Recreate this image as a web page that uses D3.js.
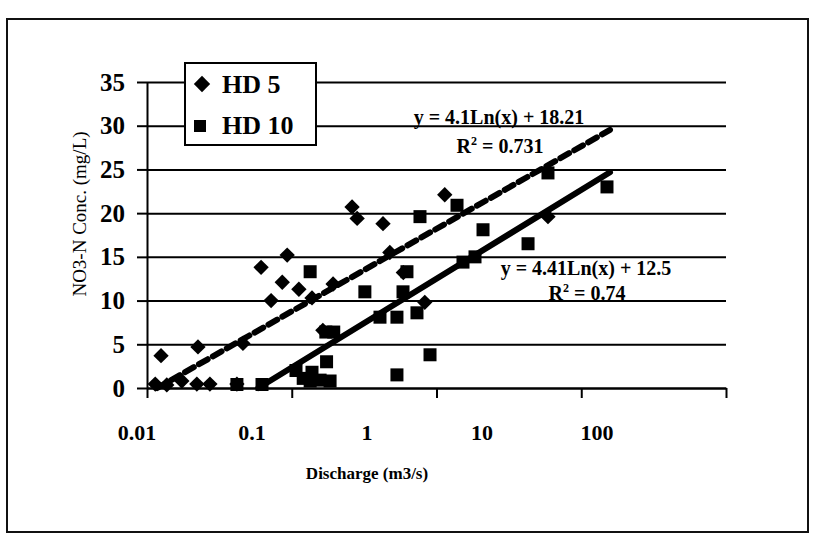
<!DOCTYPE html>
<html>
<head>
<meta charset="utf-8">
<script src="https://cdn.jsdelivr.net/npm/d3@7"></script>
<style>
  body { margin: 0; background: #fff; }
  svg { display: block; }
  text { font-family: "Liberation Serif", "Times New Roman", serif; fill: #000; }
</style>
</head>
<body>
<div id="chart"></div>
<script>
// HD 5 samples (diamonds)
var hd5X = [0.0114, 0.0137, 0.0174, 0.0221, 0.0272, 0.0418, 0.0125, 0.0225, 0.046,
  0.0614, 0.072, 0.086, 0.093, 0.112, 0.138, 0.164, 0.193, 0.261, 0.283, 0.427,
  0.476, 0.59, 0.83, 1.14, 5.89];
var hd5Y = [0.45, 0.35, 0.8, 0.45, 0.45, 0.45, 3.7, 4.7, 5.1,
  13.8, 10.0, 12.1, 15.2, 11.3, 10.3, 6.6, 11.9, 20.7, 19.4, 18.8,
  15.5, 13.2, 9.8, 22.1, 19.6];

// HD 10 samples (squares)
var hd10X = [0.0418, 0.0623, 0.107, 0.12, 0.134, 0.138, 0.157, 0.174, 0.184, 0.172,
  0.195, 0.134, 0.32, 0.407, 0.533, 0.533, 0.587, 0.625, 0.733, 0.769, 0.902,
  1.386, 1.524, 1.845, 2.096, 4.29, 5.89, 15.06];
var hd10Y = [0.4, 0.4, 2.0, 1.1, 0.8, 1.8, 0.9, 3.0, 0.8, 6.4,
  6.4, 13.3, 11.0, 8.1, 8.1, 1.5, 11.0, 13.3, 8.6, 19.6, 3.8,
  20.9, 14.4, 15.0, 18.1, 16.5, 24.6, 23.0];

// log trendlines y = a Ln(x) + b
var fitSlope = [4.1, 4.41];
var fitIntercept = [18.21, 12.5];
var fitEndX = 15.8;
var fitLabels = ["y = 4.1Ln(x) + 18.21", "y = 4.41Ln(x) + 12.5"];
var r2Labels = ["0.731", "0.74"];

var xTicks = [0.01, 0.1, 1, 10, 100];
var yTicks = [0, 5, 10, 15, 20, 25, 30, 35];
var seriesNames = ["HD 5", "HD 10"];

var width = 815, height = 538;
var margin = {top: 82, right: 89, bottom: 150, left: 147};
var w = width - margin.left - margin.right;
var h = height - margin.top - margin.bottom;

var svg = d3.select("#chart").append("svg")
    .attr("width", width)
    .attr("height", height);

// outer frame
svg.append("rect")
    .attr("x", 7).attr("y", 19)
    .attr("width", 801).attr("height", 513)
    .attr("fill", "none")
    .attr("stroke", "#111")
    .attr("stroke-width", 2);

var g = svg.append("g")
    .attr("transform", "translate(" + margin.left + "," + margin.top + ")");

var x = d3.scaleLog().domain([0.01, 100]).range([0, w]);
var y = d3.scaleLinear().domain([0, 35]).range([h, 0]);
// the printed tick labels sit off their ticks in the original
var xLabelPos = d3.scaleLog().domain([0.01, 100]).range([137 - margin.left, 597 - margin.left]);

// gridlines
g.append("g")
    .attr("class", "grid")
    .call(d3.axisLeft(y).tickValues(yTicks).tickSize(-w).tickSizeOuter(0).tickFormat(""))
    .call(function (s) {
      s.select(".domain").remove();
      s.selectAll("line").attr("stroke", "#000").attr("stroke-width", 2);
    });

// y axis
g.append("g")
    .call(d3.axisLeft(y).tickValues(yTicks).tickSize(10).tickSizeOuter(0).tickPadding(12))
    .call(function (s) {
      s.select(".domain").attr("stroke", "#000").attr("stroke-width", 2);
      s.selectAll("line").attr("stroke", "#000").attr("stroke-width", 2);
      s.selectAll("text")
          .style("font-size", "25px")
          .style("font-weight", "bold")
          .style("font-family", "'Liberation Serif', 'Times New Roman', serif");
    });

// x axis
g.append("g")
    .attr("transform", "translate(0," + h + ")")
    .call(d3.axisBottom(x).tickValues(xTicks).tickSize(10).tickSizeOuter(0).tickFormat(""))
    .call(function (s) {
      s.select(".domain").attr("stroke", "#000").attr("stroke-width", 2);
      s.selectAll("line").attr("stroke", "#000").attr("stroke-width", 2);
    });

g.append("g").selectAll("text")
    .data(xTicks)
  .enter().append("text")
    .attr("x", function (d) { return xLabelPos(d); })
    .attr("y", h + 52)
    .attr("text-anchor", "middle")
    .style("font-size", "22px")
    .style("font-weight", "bold")
    .text(function (d) { return d3.format("~g")(d); });

// axis titles
svg.append("text")
    .attr("transform", "translate(86,214) rotate(-90)")
    .attr("text-anchor", "middle")
    .style("font-size", "19px")
    .text("NO3-N Conc. (mg/L)");

svg.append("text")
    .attr("x", 367).attr("y", 479)
    .attr("text-anchor", "middle")
    .style("font-size", "17px")
    .style("font-weight", "bold")
    .text("Discharge (m3/s)");

// trendlines
var line = d3.line()
    .x(function (d) { return x(d[0]); })
    .y(function (d) { return y(d[1]); });

var seriesX = [hd5X, hd10X];
fitSlope.forEach(function (a, i) {
  var b = fitIntercept[i];
  var x0 = Math.max(d3.min(seriesX[i]), Math.exp(-b / a));
  var pts = [x0, fitEndX].map(function (v) { return [v, a * Math.log(v) + b]; });
  g.append("path")
      .datum(pts)
      .attr("d", line)
      .attr("fill", "none")
      .attr("stroke", "#000")
      .attr("stroke-width", 6)
      .attr("stroke-linecap", "round")
      .attr("stroke-dasharray", i === 0 ? "10,6" : null);
});

// points
var hd5 = hd5X.map(function (v, i) { return [v, hd5Y[i]]; });
var hd10 = hd10X.map(function (v, i) { return [v, hd10Y[i]]; });

g.append("g").selectAll("rect")
    .data(hd10)
  .enter().append("rect")
    .attr("x", function (d) { return x(d[0]) - 6.5; })
    .attr("y", function (d) { return y(d[1]) - 6.5; })
    .attr("width", 13).attr("height", 13)
    .attr("fill", "#000");

var diamond = d3.symbol().type(d3.symbolDiamond2).size(150);
g.append("g").selectAll("path")
    .data(hd5)
  .enter().append("path")
    .attr("transform", function (d) { return "translate(" + x(d[0]) + "," + y(d[1]) + ")"; })
    .attr("d", diamond)
    .attr("fill", "#000");

// equation labels
var eqPos = [[499, 124, 500, 153], [586, 275, 587, 300]];
eqPos.forEach(function (p, i) {
  svg.append("text")
      .attr("x", p[0]).attr("y", p[1])
      .attr("text-anchor", "middle")
      .style("font-size", "20px")
      .style("font-weight", "bold")
      .text(fitLabels[i]);
  var t = svg.append("text")
      .attr("x", p[2]).attr("y", p[3])
      .attr("text-anchor", "middle")
      .style("font-size", "20px")
      .style("font-weight", "bold");
  t.append("tspan").text("R");
  t.append("tspan").attr("dy", -8).style("font-size", "12px").text("2");
  t.append("tspan").attr("dy", 8).text(" = " + r2Labels[i]);
});

// legend
var legend = svg.append("g");
legend.append("rect")
    .attr("x", 185).attr("y", 63)
    .attr("width", 131).attr("height", 82)
    .attr("fill", "#fff")
    .attr("stroke", "#000")
    .attr("stroke-width", 2);

legend.append("path")
    .attr("transform", "translate(202,84)")
    .attr("d", d3.symbol().type(d3.symbolDiamond2).size(170))
    .attr("fill", "#000");
legend.append("rect")
    .attr("x", 194).attr("y", 120)
    .attr("width", 12).attr("height", 12)
    .attr("fill", "#000");

legend.selectAll("text.lbl")
    .data(seriesNames)
  .enter().append("text")
    .attr("class", "lbl")
    .attr("x", 222)
    .attr("y", function (d, i) { return 93 + i * 41; })
    .style("font-size", "26px")
    .style("font-weight", "bold")
    .text(function (d) { return d; });
</script>
</body>
</html>
